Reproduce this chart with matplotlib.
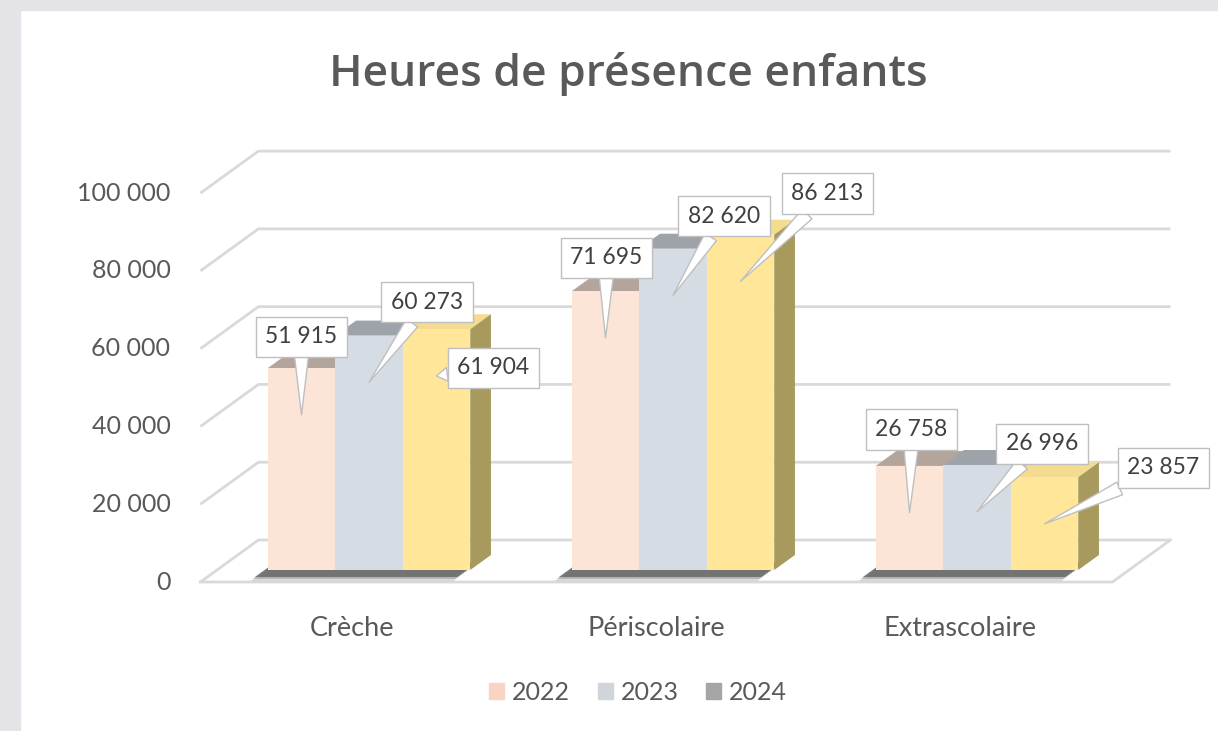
import matplotlib.pyplot as plt
from matplotlib.patches import Patch, Rectangle

# data
categories = ['Crèche', 'Périscolaire', 'Extrascolaire']
years = ['2022', '2023', '2024']
values_2022 = [51915, 71695, 26758]
values_2023 = [60273, 82620, 26996]
values_2024 = [61904, 86213, 23857]
series = [values_2022, values_2023, values_2024]
yticks = [0, 20000, 40000, 60000, 80000, 100000]

# colours (front, top, side) + legend
front_cols = ['#fce4d6', '#d6dce4', '#ffe699']
top_cols = ['#b3a59c', '#9ea3aa', '#f3dc8f']
side_cols = ['#c9b8ad', '#b3b9c2', '#a89a5c']
legend_cols = ['#f8d5c2', '#d0d5dc', '#a5a5a5']
grid_col = '#d9d9d9'
text_col = '#595959'

W, H = 1218, 731
fig = plt.figure(figsize=(W / 100, H / 100), dpi=100)
fig.patch.set_facecolor('white')
# grey screenshot border
fig.patches.append(Rectangle((0, 0), 20 / W, 1, transform=fig.transFigure,
                             color='#e4e4e8', zorder=0))
fig.patches.append(Rectangle((0, 1 - 10 / H), 1, 10 / H, transform=fig.transFigure,
                             color='#e4e4e8', zorder=0))

ax = fig.add_axes([0, 0, 1, 1])
ax.set_facecolor('none')
# pixel layout: category unit = 304 px, value unit = 0.003889 px
px_x, x0_px = 304, 369
px_v, base_row = 0.003889, 570
ax.set_xlim(-x0_px / px_x, (W - x0_px) / px_x)
ax.set_ylim((base_row - H) / px_v, base_row / px_v)
ax.axis('off')

# depth vector (front -> back of the floor)
DX, DY = 58 / px_x, 42 / px_v
t_front, t_back, t_bar = -0.286, 0.714, 0.357


def sh(x, y, t):
    return x + t * DX, y + t * DY


left, right = -0.5, 2.5
# walls and gridlines
for v in yticks:
    fx, fy = sh(left, v, t_front)
    bx, by = sh(left, v, t_back)
    ex, ey = sh(right, v, t_back)
    ax.plot([fx, bx, ex], [fy, by, ey], color=grid_col, lw=2, zorder=1,
            solid_capstyle='butt')
    ax.text(fx - 30 / px_x, fy, f'{v:,}'.replace(',', ' '), ha='right', va='center',
            fontsize=18, color=text_col, family='Lato')
# floor front edge + right edge
fx, fy = sh(left, 0, t_front)
rx, ry = sh(right, 0, t_front)
bx, by = sh(right, 0, t_back)
ax.plot([fx, rx, bx], [fy, ry, by], color=grid_col, lw=2, zorder=1)

bw = 0.222
for i, cat in enumerate(categories):
    g0 = i - 1.5 * bw
    g1 = i + 1.5 * bw
    # soft shadow on floor
    for k, a in enumerate([0.15, 0.25, 0.5]):
        o = (3 - k) * 2
        ox, oy = (-11 - o) / px_x, (-5 - o) / px_v
        px = [g0 + ox, g1 + ox, sh(g1, 0, t_bar)[0] + ox, sh(g0, 0, t_bar)[0] + ox]
        py = [oy, oy, sh(g1, 0, t_bar)[1] + oy, sh(g0, 0, t_bar)[1] + oy]
        ax.fill(px, py, color='#333333', alpha=a, lw=0, zorder=2)
    for j, vals in enumerate(series):
        v = vals[i]
        x0 = g0 + j * bw
        x1 = x0 + bw
        # top face
        tx = [x0, x1, sh(x1, v, t_bar)[0], sh(x0, v, t_bar)[0]]
        ty = [v, v, sh(x1, v, t_bar)[1], sh(x0, v, t_bar)[1]]
        ax.fill(tx, ty, color=top_cols[j], lw=0, zorder=3)
        # side face
        sx = [x1, x1, sh(x1, v, t_bar)[0], sh(x1, 0, t_bar)[0]]
        sy = [0, v, sh(x1, v, t_bar)[1], sh(x1, 0, t_bar)[1]]
        ax.fill(sx, sy, color=side_cols[j], lw=0, zorder=3)
        # front face
        ax.bar(x0, v, width=bw, align='edge', color=front_cols[j], lw=0, zorder=4)
    cx, cy = sh(i, 0, t_front)
    ax.text(cx, cy - 46 / px_v, cat, ha='center', va='center', fontsize=19.5,
            color=text_col, family='Lato')

# callout labels (offset of the box from the pointer tip, in pixels)
offsets = [
    [(0, 78), (58, 80), (57, 8)],
    [(1, 80), (51, 79), (87, 88)],
    [(2, 83), (65, 68), (119, 56)],
]
for i in range(len(categories)):
    for j, vals in enumerate(series):
        v = vals[i]
        xc = i - 1.5 * bw + (j + 0.5) * bw
        ax.annotate(f'{v:,}'.replace(',', ' '), xy=(xc, v - 12000),
                    xytext=offsets[i][j], textcoords='offset pixels',
                    ha='center', va='center', fontsize=16.5, color='#404040',
                    family='Lato', zorder=6,
                    bbox=dict(boxstyle='square,pad=0.42', fc='white', ec='#bfbfbf', lw=1),
                    arrowprops=dict(arrowstyle='wedge,tail_width=0.6', fc='white',
                                    ec='#bfbfbf', lw=1, shrinkA=0, shrinkB=0))

fig.text(628 / W, 1 - 74 / H, 'Heures de présence enfants', ha='center', va='center',
         fontsize=32, color=text_col, family='Open Sans', weight='semibold')

handles = [Patch(color=c) for c in legend_cols]
fig.legend(handles, years, loc='center', bbox_to_anchor=(638 / W, 1 - 692 / H), ncol=3,
           frameon=False, handlelength=0.6, handleheight=0.6, handletextpad=0.32,
           columnspacing=1.1, prop={'family': 'Lato', 'size': 18}, labelcolor=text_col)

fig.savefig('out.png', dpi=100)
